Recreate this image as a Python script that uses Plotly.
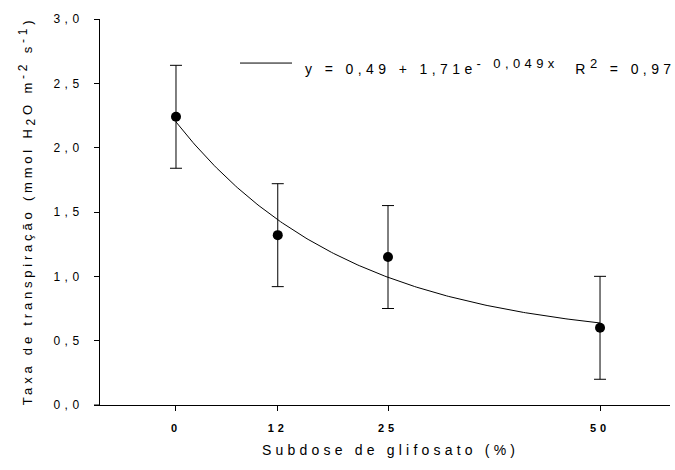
import numpy as np
import plotly.graph_objects as go

# ---- data ----
dose = [0, 12, 25, 50]                      # Subdose de glifosato (%)
rate = [2.24, 1.32, 1.15, 0.60]             # Taxa de transpiração
err = [0.40, 0.40, 0.40, 0.40]              # error bars
y_tickvals = [0, 0.5, 1.0, 1.5, 2.0, 2.5, 3.0]
y_ticklabels = ["0,0", "0,5", "1,0", "1,5", "2,0", "2,5", "3,0"]
x_ticklabels = ["0", "12", "25", "50"]
fit_a, fit_b, fit_k = 0.49, 1.71, 0.049     # y = a + b*exp(-k x), printed on chart

FONT = "Liberation Sans, Arial, sans-serif"


def sp(t, s, size=None):
    st = f"letter-spacing:{s}px"
    if size:
        st += f";font-size:{size}px"
    return f'<span style="{st}">{t}</span>'


# plot-area geometry in pixels
L, R, T, B = 100, 670, 18.6, 405
PW, PH = R - L, B - T


def px(x):
    return (x - L) / PW


def py(y):
    return (B - y) / PH


fig = go.Figure()

xf = np.linspace(min(dose), max(dose), 200)
fig.add_trace(go.Scatter(
    x=xf, y=fit_a + fit_b * np.exp(-fit_k * xf), mode="lines",
    line=dict(color="black", width=1), showlegend=False, hoverinfo="skip"))

fig.add_trace(go.Scatter(
    x=dose, y=rate, mode="markers",
    marker=dict(color="black", size=10),
    error_y=dict(type="data", array=err, color="black", thickness=1, width=6),
    showlegend=False))

ytitle = ("Taxa de transpiração (mmol H<sub>" + sp("2", 3.8, 12) + "</sub>O m<sup>"
          + sp("-2", 3.8, 12) + "</sup> s<sup>" + sp("-1", 3.8, 12) + "</sup>)")

legend_text = ("y = 0,49 + 1,71e<sup>" + sp("- 0,049x", 4.4, 13) + "</sup>  R<sup>"
               + sp("2", 4.4, 13) + "</sup> = 0,97")

fig.update_layout(
    width=675, height=470,
    margin=dict(l=L, r=675 - R, t=T, b=470 - B, pad=0),
    paper_bgcolor="white", plot_bgcolor="white",
    font=dict(family=FONT, color="black"),
    xaxis=dict(
        range=[-8.96, 58.25], showline=True, linecolor="black", linewidth=1,
        ticks="outside", ticklen=5, tickwidth=1, tickcolor="black",
        tickvals=dose, ticktext=[f"<b>{sp(t, 4)}</b>" for t in x_ticklabels],
        tickfont=dict(size=11, family=FONT, color="black"),
        showgrid=False, zeroline=False, ticklabelstandoff=8),
    yaxis=dict(
        range=[0, 3], showline=True, linecolor="black", linewidth=1,
        ticks="outside", ticklen=5, tickwidth=1, tickcolor="black",
        tickvals=y_tickvals, ticktext=[sp(t, 4.5) for t in y_ticklabels],
        tickfont=dict(size=12, family=FONT, color="black"),
        showgrid=False, zeroline=False, ticklabelstandoff=8),
    shapes=[
        dict(type="line", xref="paper", yref="paper", x0=-6 / PW, x1=0, y0=0, y1=0,
             line=dict(color="black", width=1)),
        dict(type="line", xref="paper", yref="paper", x0=px(240), x1=px(292),
             y0=py(62.7), y1=py(62.7), line=dict(color="black", width=1)),
    ],
    annotations=[
        dict(xref="paper", yref="paper", x=px(390), y=py(450), xanchor="center", yanchor="middle",
             text=sp("Subdose de glifosato (%)", 4.2), showarrow=False,
             font=dict(size=14, family=FONT, color="black")),
        dict(xref="paper", yref="paper", x=px(27), y=py(211), xanchor="center", yanchor="middle",
             textangle=-90, text=sp(ytitle, 3.8),
             showarrow=False, font=dict(size=13, family=FONT, color="black")),
        dict(xref="paper", yref="paper", x=px(303), y=py(66), xanchor="left", yanchor="middle",
             text=sp(legend_text, 4.4),
             showarrow=False, font=dict(size=14, family=FONT, color="black")),
    ],
)

fig.write_html("out.html", config={"displayModeBar": False},
               post_script="document.body.style.margin='0';")
